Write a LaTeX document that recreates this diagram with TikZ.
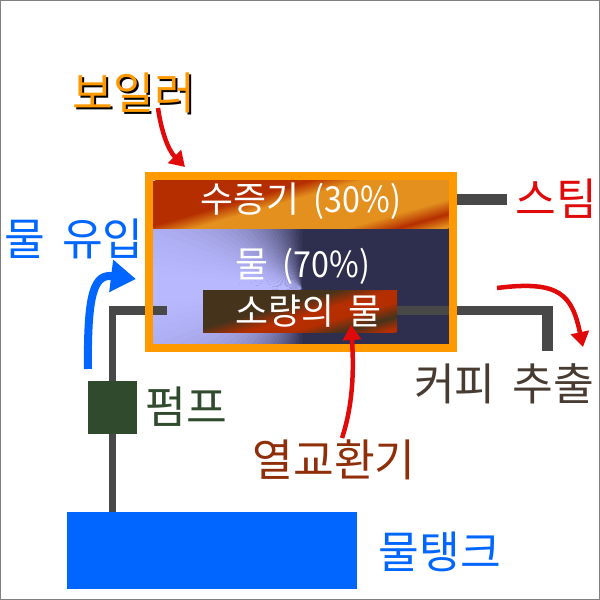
\documentclass[tikz,border=0pt]{standalone}
\usepackage{fontspec}
\setmainfont[WordSpace=1.7]{Noto Sans CJK KR}
\newfontfamily\latinpart[FakeStretch=0.9]{Noto Sans CJK KR}
\usetikzlibrary{arrows.meta}
\definecolor{steamred}{HTML}{B52E00}
\definecolor{steamorange}{HTML}{E3901E}
\definecolor{hxbrown}{HTML}{46331C}
\definecolor{waterlight}{HTML}{B8B8FF}
\definecolor{waterdark}{HTML}{2E2E4E}
\definecolor{framecolor}{HTML}{FF9900}
\definecolor{pipecolor}{HTML}{484848}
\definecolor{pumpcolor}{HTML}{2F4A2C}
\definecolor{bluecolor}{HTML}{0066FF}
\definecolor{redcolor}{HTML}{E00A0A}
\definecolor{hxtext}{HTML}{8F2F0A}
\definecolor{coffeetext}{HTML}{483C32}
% stops: 75bp = top-left of the band, 25bp = far corner (vertical shading runs bottom to top)
\pgfdeclareverticalshading{steamfill}{100bp}{color(0bp)=(steamorange); color(26bp)=(steamorange);
  color(30.6bp)=(steamred); color(36.2bp)=(steamorange); color(52.8bp)=(steamorange);
  color(58.2bp)=(steamred); color(100bp)=(steamred)}
\pgfdeclareverticalshading{hxfill}{100bp}{color(0bp)=(steamred); color(27bp)=(steamred);
  color(33.2bp)=(hxbrown); color(40.7bp)=(steamred); color(47.6bp)=(steamred);
  color(55.6bp)=(hxbrown); color(100bp)=(hxbrown)}
\begin{document}
\begin{tikzpicture}[
    x=0.01cm, y=-0.01cm,
    txtbig/.style={font=\fontsize{12.6}{15}\selectfont},
    txtin/.style={font=\fontsize{10.2}{12}\selectfont, text=white},
    pipe/.style={draw=pipecolor, line width=0.095cm},
    redarrow/.style={draw=redcolor, line width=0.045cm, -{Triangle[length=0.15cm,width=0.18cm,fill=redcolor]}}
     ]
  \useasboundingbox (0,0) rectangle (600,600);
  \draw[gray, line width=0.02cm] (0,0) rectangle (600,600);
  % points for the pipes
  \coordinate (wcen) at (302,288);
  \coordinate (lowcorner) at (112.5,306);
  \coordinate (tanktop) at (112.5,512);
  \coordinate (leftin) at (109,310.5);
  \coordinate (leftend) at (167,310.5);
  \coordinate (rightin) at (397,310.5);
  \coordinate (rightend) at (553,310.5);
  \coordinate (outtop) at (547.5,306);
  \coordinate (outend) at (547.5,351);
  \coordinate (steamin) at (449,199.5);
  \coordinate (steamend) at (507,199.5);
  % water
  \begin{scope}
    \clip (153,228) rectangle (449,344);
    \fill[waterdark] (153,228) rectangle (449,344);
    \foreach \ang [evaluate=\ang as \tone using 100*(\ang/90)^1.7] in {0,3,...,87} {
      \fill[waterdark!\tone!waterlight] (wcen) -- +(180+\ang:500) -- +(180+\ang+3.4:500) -- cycle;
      \fill[waterdark!\tone!waterlight] (wcen) -- +(180-\ang:500) -- +(180-\ang-3.4:500) -- cycle;
    }
  \end{scope}
  % steam
  \begin{scope}
    \clip (153,180) rectangle (449,228);
    \begin{scope}[transform canvas={rotate around={16:(153,181)}}]
      \shade[shading=steamfill] (100,181) rectangle (500,308);
    \end{scope}
  \end{scope}
  % pipes
  \draw[pipe, line width=0.065cm] (tanktop) -- (lowcorner);
  \draw[pipe] (leftin) -- (leftend);
  \draw[pipe] (rightin) -- (rightend);
  \draw[pipe, line width=0.11cm] (outtop) -- (outend);
  \draw[pipe, line width=0.11cm] (steamin) -- (steamend);
  % heat exchanger
  \begin{scope}
    \clip (203,290) rectangle (397,332);
    \begin{scope}[transform canvas={rotate around={16:(203,290)}}]
      \shade[shading=hxfill] (150,290) rectangle (450,384);
    \end{scope}
  \end{scope}
  % boxes
  \node[draw=framecolor, line width=0.08cm, minimum width=3.04cm, minimum height=1.72cm, inner sep=0pt] (boiler) at (301,262) {};
  \node[fill=pumpcolor, minimum width=0.49cm, minimum height=0.53cm, inner sep=0pt] (pumpbox) at (112.5,407.5) {};
  \node[fill=bluecolor, minimum width=2.9cm, minimum height=0.77cm, inner sep=0pt] (tank) at (212,550.5) {};
  % labels
  \node[txtin] (steamlabel) at (301,201) {수증기 {\latinpart (30\%)}};
  \node[txtin] (waterlabel) at (303,266) {물 {\latinpart (70\%)}};
  \node[txtin] (hxinner) at (308.5,311) {소량의 물};
  \node[txtbig, text=black] (boilershadow) at (136,95) {보일러};
  \node[txtbig, text=framecolor] (boilerlabel) at (134,93) {보일러};
  \node[txtbig, text=bluecolor] (inlabel) at (74,239) {물 유입};
  \node[txtbig, text=redcolor] (outlabel) at (556,199) {스팀};
  \node[txtbig, text=pumpcolor] (pumplabel) at (186,407) {펌프};
  \node[txtbig, text=coffeetext] (coffeelabel) at (504,384) {커피 추출};
  \node[txtbig, text=hxtext] (hxlabel) at (334,460) {열교환기};
  \node[txtbig, text=bluecolor] (tanklabel) at (440,552) {물탱크};
  % arrows
  \coordinate (boilerarrow) at (158,108);
  \coordinate (boilertip) at (185,167);
  \coordinate (hxarrow) at (342,438);
  \coordinate (hxtip) at (351,325);
  \coordinate (coffeearrow) at (497,288);
  \coordinate (coffeetip) at (583,347);
  \coordinate (inarrow) at (88,369);
  \coordinate (intip) at (136,279);
  \draw[redarrow] (boilerarrow) .. controls (161,130) and (168,150) .. (boilertip);
  \draw[redarrow] (hxarrow) .. controls (353,405) and (354,370) .. (hxtip);
  \draw[redarrow] (coffeearrow) .. controls (560,280) and (572,295) .. (coffeetip);
  \draw[draw=bluecolor, line width=0.08cm, -{Triangle[length=0.25cm,width=0.31cm,fill=bluecolor]}]
    (inarrow) .. controls (87,290) and (95,274) .. (intip);
\end{tikzpicture}
\end{document}
